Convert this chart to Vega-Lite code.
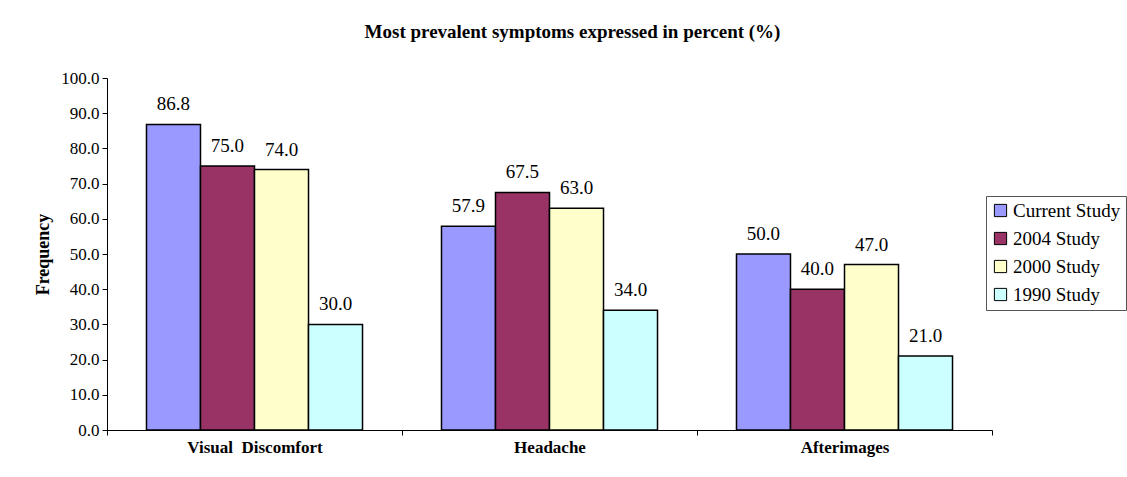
{
  "$schema": "https://vega.github.io/schema/vega-lite/v6.json",
  "autosize": "none",
  "width": 885,
  "height": 352,
  "padding": {"left": 107, "top": 78, "right": 135, "bottom": 47},
  "background": "white",
  "title": {
    "text": "Most prevalent symptoms expressed in percent (%)",
    "font": "Liberation Serif",
    "fontSize": 19,
    "fontWeight": "bold",
    "color": "black",
    "anchor": "middle",
    "dx": 23,
    "offset": 27
  },
  "config": {
    "view": {"stroke": null},
    "font": "Liberation Serif"
  },
  "data": {
    "values": [
      {"symptom": "Visual\u00a0 Discomfort", "study": "Current Study", "value": 86.8},
      {"symptom": "Visual\u00a0 Discomfort", "study": "2004 Study", "value": 75.0},
      {"symptom": "Visual\u00a0 Discomfort", "study": "2000 Study", "value": 74.0},
      {"symptom": "Visual\u00a0 Discomfort", "study": "1990 Study", "value": 30.0},
      {"symptom": "Headache", "study": "Current Study", "value": 57.9},
      {"symptom": "Headache", "study": "2004 Study", "value": 67.5},
      {"symptom": "Headache", "study": "2000 Study", "value": 63.0},
      {"symptom": "Headache", "study": "1990 Study", "value": 34.0},
      {"symptom": "Afterimages", "study": "Current Study", "value": 50.0},
      {"symptom": "Afterimages", "study": "2004 Study", "value": 40.0},
      {"symptom": "Afterimages", "study": "2000 Study", "value": 47.0},
      {"symptom": "Afterimages", "study": "1990 Study", "value": 21.0}
    ]
  },
  "encoding": {
    "x": {
      "field": "symptom",
      "type": "nominal",
      "sort": ["Visual\u00a0 Discomfort", "Headache", "Afterimages"],
      "scale": {"paddingInner": 0, "paddingOuter": 0},
      "axis": {
        "title": null,
        "labelAngle": 0,
        "labelFont": "Liberation Serif",
        "labelFontSize": 17,
        "labelFontWeight": "bold",
        "labelColor": "black",
        "labelPadding": 4,
        "tickBand": "extent",
        "tickSize": 5,
        "tickColor": "black",
        "domainColor": "black",
        "domainWidth": 1,
        "grid": false
      }
    },
    "xOffset": {
      "field": "study",
      "type": "nominal",
      "sort": ["Current Study", "2004 Study", "2000 Study", "1990 Study"],
      "scale": {"paddingInner": 0, "paddingOuter": 0.731}
    },
    "y": {
      "field": "value",
      "type": "quantitative",
      "scale": {"domain": [0, 100]},
      "axis": {
        "title": "Frequency",
        "titleFont": "Liberation Serif",
        "titleFontSize": 18,
        "titleFontWeight": "bold",
        "titleColor": "black",
        "titlePadding": 8,
        "values": [0, 10, 20, 30, 40, 50, 60, 70, 80, 90, 100],
        "format": ".1f",
        "labelFont": "Liberation Serif",
        "labelFontSize": 17,
        "labelColor": "black",
        "labelPadding": 3,
        "tickSize": 5,
        "tickColor": "black",
        "domainColor": "black",
        "grid": false
      }
    }
  },
  "layer": [
    {
      "mark": {"type": "bar", "stroke": "black", "strokeWidth": 1.5},
      "encoding": {
        "color": {
          "field": "study",
          "type": "nominal",
          "sort": ["Current Study", "2004 Study", "2000 Study", "1990 Study"],
          "scale": {
            "domain": ["Current Study", "2004 Study", "2000 Study", "1990 Study"],
            "range": ["#9999FF", "#993366", "#FFFFCC", "#CCFFFF"]
          },
          "legend": {
            "title": null,
            "orient": "none",
            "legendX": 879,
            "legendY": 118,
            "padding": 5,
            "strokeColor": "#555555",
            "fillColor": "white",
            "symbolType": "square",
            "symbolSize": 150,
            "symbolStrokeColor": "black",
            "symbolStrokeWidth": 1,
            "symbolOpacity": 1,
            "labelFont": "Liberation Serif",
            "labelFontSize": 19,
            "labelColor": "black",
            "labelOffset": 3,
            "rowPadding": 8
          }
        }
      }
    },
    {
      "mark": {
        "type": "text",
        "baseline": "bottom",
        "dy": -10,
        "font": "Liberation Serif",
        "fontSize": 19,
        "color": "black"
      },
      "encoding": {
        "text": {"field": "value", "type": "quantitative", "format": ".1f"}
      }
    }
  ]
}
